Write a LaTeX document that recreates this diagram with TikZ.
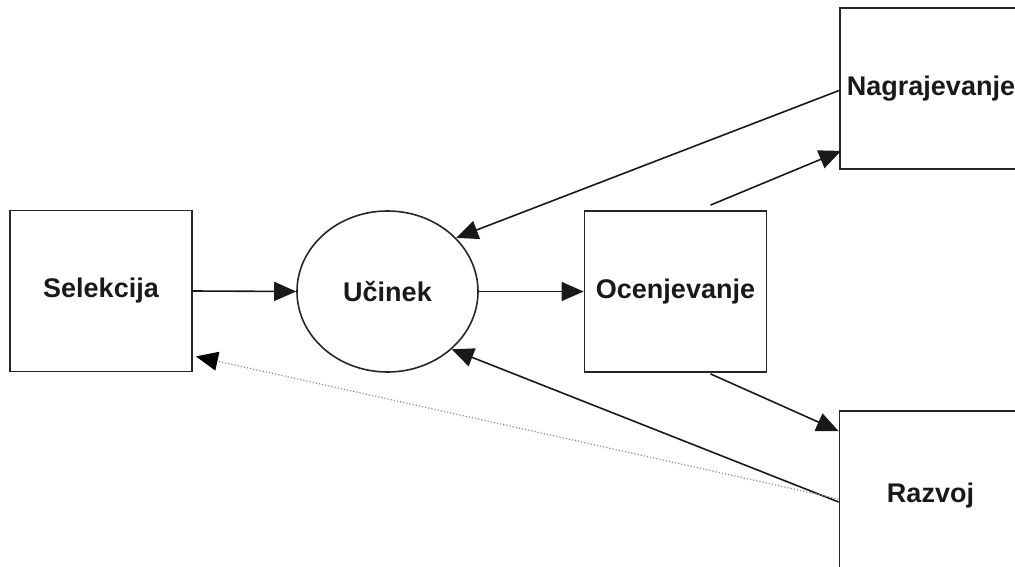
\documentclass[tikz,border=0pt]{standalone}
\usepackage{fontspec}
\setmainfont{Liberation Sans}
\usetikzlibrary{arrows.meta,calc,shapes.geometric}
\tikzset{
  box/.style={draw=black!85, line width=1.8pt, rectangle, minimum width=182pt, minimum height=161pt, inner sep=0pt,
    font=\fontsize{27}{30}\selectfont\bfseries, text=black!90},
  oval/.style={draw=black!85, line width=1.6pt, ellipse, minimum width=181pt, minimum height=161pt, inner sep=0pt,
    font=\fontsize{27}{30}\selectfont\bfseries, text=black!90},
  arr/.style={line width=1.6pt, draw=black!90, -{Triangle[length=22pt,width=19pt]}},
  dotarr/.style={line width=1.2pt, draw=black!45, dotted, -{Triangle[length=22pt,width=19pt,fill=black,color=black]}}
}
\begin{document}
\begin{tikzpicture}[x=1pt,y=-1pt]
\useasboundingbox (0,0) rectangle (1015,567);
\node[box] (sel) at (101,291) {Selekcija};
\node[oval] (uc) at (387.5,291.5) {U\v{c}inek};
\node[box] (oc) at (675.5,291.5) {Ocenjevanje};
\node[box] (nag) at (931,88.5) {Nagrajevanje};
\node[box, minimum height=170pt] (raz) at (930.5,496) {Razvoj};

\draw[arr] (sel.east) -- (uc.west);
\draw[arr] (uc.east) -- (oc.west);
\draw[arr] ($(nag.west)+(0,2)$) -- (uc.38);
\draw[arr] ($(oc.north)+(35,-5)$) -- ($(nag.south west)+(2,-19)$);
\draw[arr] ($(oc.south)+(35,1)$) -- ($(raz.north west)+(0,21)$);
\draw[arr] ($(raz.west)+(0,6)$) -- (uc.-42);
\draw[dotarr] ($(raz.west)+(0,3)$) -- ($(sel.south east)+(3,-16)$);
\end{tikzpicture}
\end{document}
